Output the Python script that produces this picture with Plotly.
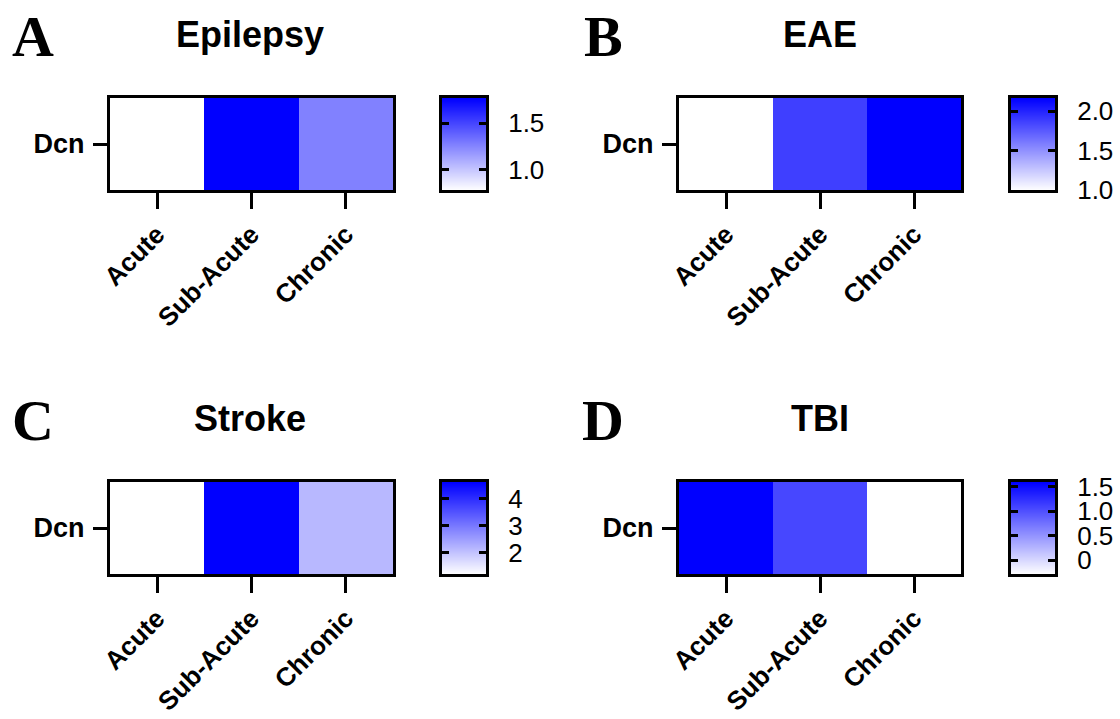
import plotly.graph_objects as go

W, H = 1120, 719

# Data: Dcn expression per disease model and phase
categories = ["Acute", "Sub-Acute", "Chronic"]
row_label = ["Dcn"]
epilepsy = [0.78, 1.77, 1.27]
eae = [1.00, 1.88, 2.17]
stroke = [1.22, 4.61, 2.17]
tbi = [1.59, 1.07, -0.28]

titles = ["Epilepsy", "EAE", "Stroke", "TBI"]
letters = ["A", "B", "C", "D"]

# Colour-bar tick labels per panel
cbar_ticks = [
    ([1.0, 1.5], ["1.0", "1.5"]),
    ([1.0, 1.5, 2.0], ["1.0", "1.5", "2.0"]),
    ([2, 3, 4], ["2", "3", "4"]),
    ([0, 0.5, 1.0, 1.5], ["0", "0.5", "1.0", "1.5"]),
]

series = [epilepsy, eae, stroke, tbi]
scale = [[0, "#ffffff"], [1, "#0000ff"]]
SANS = "Liberation Sans, Arial, sans-serif"
SERIF = "Liberation Serif, Times New Roman, serif"


def fx(p):
    return p / W


def fy(p):
    return 1 - p / H


# pixel geometry of each panel (inner edges)
heat_x = [(110, 393), (679, 961), (110, 393), (679, 961)]
row_y = [(98, 190), (98, 190), (482, 574), (482, 574)]
cbar_x = [(442, 486), (1011, 1055), (442, 486), (1011, 1055)]
title_x = [250, 820, 250, 820]
letter_x = [33, 603, 33, 603]
title_y = [34, 34, 418, 418]

fig = go.Figure()
layout = {}

for i, vals in enumerate(series):
    lo, hi = min(vals), max(vals)
    k = i + 1
    c = i + 5
    fig.add_trace(go.Heatmap(
        z=[vals], x=categories, y=row_label,
        colorscale=scale, zmin=lo, zmax=hi, showscale=False,
        xaxis=f"x{k}", yaxis=f"y{k}", hoverinfo="skip",
    ))
    # colour key: smooth ramp between the panel's min and max
    fig.add_trace(go.Heatmap(
        z=[[lo], [hi]], x=[0], y=[lo, hi],
        colorscale=scale, zmin=lo, zmax=hi, showscale=False, zsmooth="best",
        xaxis=f"x{c}", yaxis=f"y{c}", hoverinfo="skip",
    ))

    y0, y1 = row_y[i]
    line = dict(showline=True, linewidth=3, linecolor="black", mirror=True,
                showgrid=False, zeroline=False, fixedrange=True,
                automargin=False)
    layout[f"xaxis{k}"] = dict(
        domain=[fx(heat_x[i][0]), fx(heat_x[i][1])], anchor=f"y{k}",
        ticks="outside", ticklen=16, tickwidth=3, tickcolor="black",
        tickangle=-45, ticklabelstandoff=0,
        tickfont=dict(family=SANS, size=26, color="black", weight="bold"),
        **line)
    layout[f"yaxis{k}"] = dict(
        domain=[fy(y1), fy(y0)], anchor=f"x{k}",
        ticks="outside", ticklen=14, tickwidth=3, tickcolor="black",
        ticklabelstandoff=3,
        tickfont=dict(family=SANS, size=27, color="black", weight="bold"),
        **line)

    tv, tt = cbar_ticks[i]
    layout[f"xaxis{c}"] = dict(
        domain=[fx(cbar_x[i][0]), fx(cbar_x[i][1])], anchor=f"y{c}",
        range=[-0.5, 0.5], showticklabels=False, ticks="", **line)
    layout[f"yaxis{c}"] = dict(
        domain=[fy(y1), fy(y0)], anchor=f"x{c}", side="right",
        range=[lo, hi], tickvals=tv, ticktext=tt,
        showline=True, linewidth=3, linecolor="black", mirror="ticks",
        ticks="inside", ticklen=7, tickwidth=3, tickcolor="black",
        ticklabelstandoff=14,
        tickfont=dict(family=SANS, size=26, color="black"),
        showgrid=False, zeroline=False, fixedrange=True, automargin=False)

annotations = []
for i in range(4):
    annotations.append(dict(
        text=titles[i], x=fx(title_x[i]), y=fy(title_y[i]),
        xref="paper", yref="paper", xanchor="center", yanchor="middle",
        showarrow=False,
        font=dict(family=SANS, size=36, color="black", weight="bold")))
    annotations.append(dict(
        text=letters[i], x=fx(letter_x[i]), y=fy(title_y[i] + 2),
        xref="paper", yref="paper", xanchor="center", yanchor="middle",
        showarrow=False,
        font=dict(family=SERIF, size=58, color="black", weight="bold")))

fig.update_layout(
    template="none",
    width=W, height=H, autosize=False,
    margin=dict(l=0, r=0, t=0, b=0, pad=0),
    paper_bgcolor="white", plot_bgcolor="white",
    showlegend=False, annotations=annotations, **layout)

fig.write_html("out.html", config={"displayModeBar": False})
